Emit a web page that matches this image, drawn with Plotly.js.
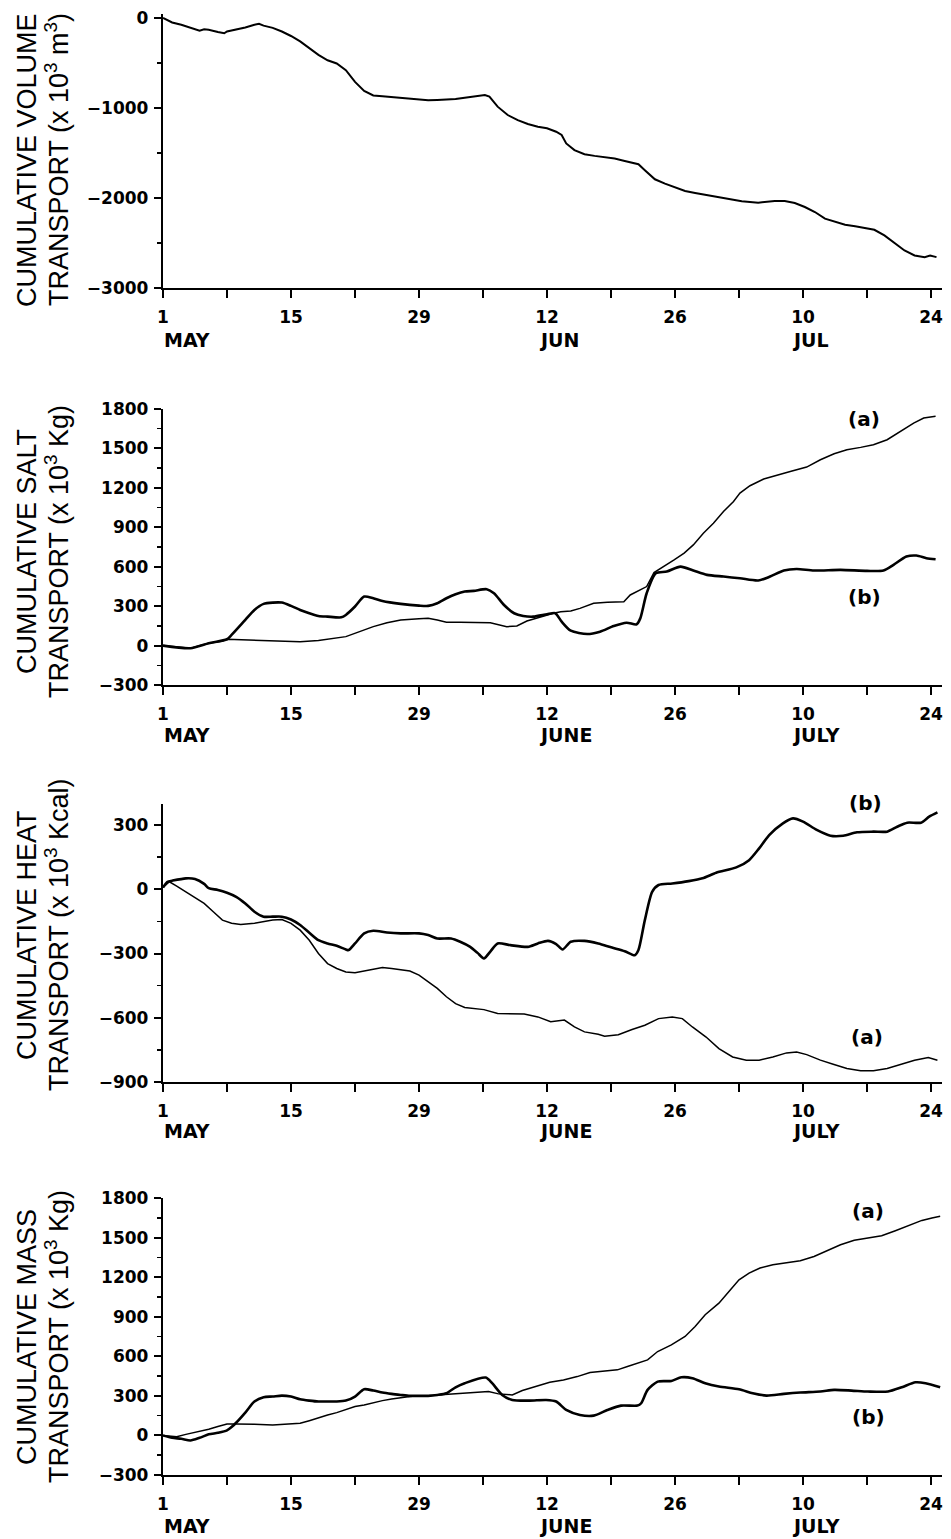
<!DOCTYPE html>
<html>
<head>
<meta charset="utf-8">
<script src="https://cdn.plot.ly/plotly-3.0.1.min.js"></script>
<style>html,body{margin:0;padding:0;background:#fff;}#chart{width:951px;height:1539px;}</style>
</head>
<body>
<div id="chart"></div>
<script>
// Day index: 0 = 1 May
const dayTicks = [0,14,28,42,56,70,84];
const dayTickText = ['1','15','29','12','26','10','24'];

// Panel 1: cumulative volume transport
const volDay = [0,0.7,1,2,3,4,4.5,5,6,6.7,7,8,9,10,10.5,11,12,13,14,15,16,17,18,19,20,21,22,23,24,25,26,27,28,29,30,31,32,33,34.1,35.2,35.7,36.6,37.7,38.8,39.9,41,42,43,43.6,44.1,45,46.1,47.2,48.3,49.4,50.5,52,52.7,53.8,54.9,56,57.1,58.2,59.6,61.4,63.3,65.1,66.9,68,69.1,70.2,71.3,72.4,73.5,74.6,75.7,76.7,77.8,78.9,80,81.1,82.2,83.3,83.9,84.6];
const volVal = [0,-37,-50,-75,-110,-140,-125,-130,-155,-170,-150,-130,-105,-75,-65,-85,-110,-150,-200,-260,-335,-410,-470,-505,-580,-710,-810,-860,-870,-880,-885,-900,-910,-915,-910,-905,-900,-885,-874,-855,-874,-985,-1078,-1134,-1178,-1208,-1226,-1264,-1300,-1394,-1468,-1513,-1532,-1543,-1561,-1588,-1625,-1691,-1792,-1840,-1877,-1922,-1944,-1970,-2007,-2037,-2052,-2033,-2033,-2055,-2100,-2156,-2230,-2267,-2297,-2315,-2334,-2353,-2416,-2502,-2583,-2639,-2657,-2639,-2657];

// Panel 2: cumulative salt transport
const saltADay = [0,3,5,6.5,7,10,12,15,17,19,20,21.5,23,24.5,26,28,29,30,31,32.5,34,35.8,37.6,38.7,39.8,41.3,42.7,43.5,44.6,45.6,47.1,48.6,50.4,51.1,52.2,52.9,53.7,54.8,55.9,57,58,59.1,60.2,61.3,62.4,63.1,64.2,65.7,67.2,68.6,70.4,71.9,73.4,74.8,76.3,77.7,79.2,80.6,82.1,83.2,84.5];
const saltAVal = [0,-20,18,35,48,43,38,30,38,55,68,106,144,174,195,205,207,195,177,177,174,174,144,149,187,220,246,258,263,283,322,329,334,385,423,449,555,601,652,703,766,855,931,1020,1096,1160,1216,1267,1300,1325,1358,1414,1460,1490,1508,1528,1566,1630,1693,1731,1744];
const saltBDay = [0,3,5,7,7.5,9,10,11,12,13,14,15,16,17,18,19.5,20,21,22,23,24,26,28,29,30,31,32,33,34,35.4,36.2,37.3,38.4,39.4,40.5,42,42.9,43.6,44.6,46.4,47.8,49.3,50.7,51.8,52.2,52.9,53.9,55.1,56.6,58,59.5,61.3,63.1,65.1,66.4,67.9,69.3,71.2,74.1,77,78.8,79.9,81.3,82.4,83.5,84.5];
const saltBVal = [0,-20,18,48,81,195,271,317,327,327,302,271,246,225,220,215,233,297,373,360,339,317,304,302,322,360,390,411,416,429,398,309,246,225,220,238,246,182,113,88,106,149,174,162,207,398,550,563,601,571,538,525,512,495,525,571,583,571,576,568,571,614,677,685,665,657];

// Panel 3: cumulative heat transport
const heatADay = [0,0.7,1.5,2.5,3.5,4.5,5.5,6.5,7.5,8.5,10,11,12,13,14,15,16,17,18,19,20,21,22,23,24,25,26,27,28,29,30,31,32,33,35.1,36.6,38,39.5,41,42.4,43.9,45,46.1,47.6,48.3,49.8,51.3,52.7,54.2,55.7,56.8,57.9,59.4,60.8,62.3,63.8,65.2,66.7,68.2,69.3,70.4,71.9,73.3,74.8,76.3,77.7,79.2,80.7,82.2,83.7,84.7];
const heatAVal = [8,35,15,-12,-35,-66,-105,-144,-159,-164,-159,-152,-144,-141,-159,-191,-238,-300,-347,-370,-386,-390,-382,-375,-365,-370,-375,-382,-401,-432,-463,-502,-534,-552,-562,-580,-580,-583,-596,-619,-611,-643,-666,-677,-686,-679,-655,-635,-604,-596,-604,-643,-690,-744,-783,-798,-798,-783,-764,-760,-772,-798,-817,-837,-848,-848,-837,-819,-798,-786,-798];
const heatBDay = [0,0.5,1,2.5,3.5,4.5,5,6,7,8,9,10,11,12,13,14,15,16,17,18,19,20,20.3,21,22,23,24.5,26,28,29,30,31.5,32.5,33.6,34.4,35.1,35.8,36.6,38,39.9,41,42.1,43,43.7,44.6,46.1,47.6,49.1,50.5,51.6,52,52.7,53.5,54.2,55.7,57.5,59,60.5,62.7,64.1,65.2,66.3,67.8,68.9,70,71.5,73,74.4,75.9,77.7,79.2,80.3,81.4,82.9,83.8,84.7];
const heatBVal = [8,35,40,51,48,25,5,-3,-16,-35,-66,-105,-128,-128,-128,-141,-167,-203,-238,-253,-264,-281,-284,-253,-206,-194,-202,-206,-206,-214,-230,-230,-245,-269,-297,-323,-291,-253,-261,-269,-253,-241,-256,-281,-245,-241,-253,-272,-289,-308,-284,-144,-12,20,27,38,51,77,102,136,191,253,308,331,316,277,250,250,266,269,269,292,311,311,339,359];

// Panel 4: cumulative mass transport
const massADay = [0,1.5,2.5,3.5,5,6,7,8,9,10,12,14,15,16,17,18,19,20,21,22,23,24,25,26,27,28,29,30,31,32,33,35.6,36.7,38.2,39.3,40.8,42.3,43.8,45.3,46.7,48.2,49.7,50.8,51.9,53,54.1,55.6,57.1,58.2,59.3,60.8,61.9,63,64.1,65.3,66.7,68.2,69.7,71.2,72.7,74.1,75.6,77.1,78.6,80.1,81.6,83,84.1,85];
const massAVal = [0,-10,8,23,47,67,87,87,87,85,80,87,92,112,135,155,173,198,219,231,249,264,277,287,295,300,300,307,312,320,325,333,315,307,340,371,403,421,446,477,489,497,522,548,573,636,687,750,826,915,1003,1092,1180,1231,1269,1294,1307,1324,1357,1400,1446,1479,1496,1514,1552,1590,1630,1648,1661];
const massBDay = [0,1,2,3,4,5,6,7,7.5,8,9,10,11,12,13,14,15,16,17,18,19,20,21,22,23,24,25,26,27,28,29,30,31,32,33,35.3,36,37.1,38.2,40.1,41.9,43,44.1,45.6,47.1,48.6,50.1,51.9,52.3,53,54.1,55.6,56.7,57.9,59.3,60.8,63,64.5,66,67.9,69.7,71.9,73.4,75.3,77.1,79.3,80.8,82.3,83.4,85];
const massBVal = [0,-18,-25,-38,-18,8,20,38,63,96,173,257,290,295,302,295,274,264,257,257,257,264,295,350,340,325,315,307,300,300,300,307,320,365,396,439,396,307,269,264,269,257,193,155,150,193,226,226,244,345,408,413,441,434,396,371,350,320,302,315,325,333,345,340,333,333,365,403,396,365];

const titles = [
  ['CUMULATIVE VOLUME', 'TRANSPORT (x 10<sup>3</sup> m<sup>3</sup>)'],
  ['CUMULATIVE SALT', 'TRANSPORT (x 10<sup>3</sup> Kg)'],
  ['CUMULATIVE HEAT', 'TRANSPORT (x 10<sup>3</sup> Kcal)'],
  ['CUMULATIVE MASS', 'TRANSPORT (x 10<sup>3</sup> Kg)']
];
const monthSets = [['MAY','JUN','JUL'],['MAY','JUNE','JULY'],['MAY','JUNE','JULY'],['MAY','JUNE','JULY']];
const seriesLabels = [[], ['(a)','(b)'], ['(b)','(a)'], ['(a)','(b)']];

const H = 1539, W = 951;
const py = px => 1 - px / H;
const tickFont = {family: 'DejaVu Sans', size: 17, color: '#000', weight: 'bold'};

const thin = {color: '#000', width: 1.5};
const thick = {color: '#000', width: 2.6, shape: 'spline', smoothing: 0.7};

const traces = [
  {x: volDay, y: volVal, xaxis: 'x', yaxis: 'y', mode: 'lines', line: {color: '#000', width: 2}},
  {x: saltADay, y: saltAVal, xaxis: 'x2', yaxis: 'y2', mode: 'lines', line: thin},
  {x: saltBDay, y: saltBVal, xaxis: 'x2', yaxis: 'y2', mode: 'lines', line: thick},
  {x: heatADay, y: heatAVal, xaxis: 'x3', yaxis: 'y3', mode: 'lines', line: thin},
  {x: heatBDay, y: heatBVal, xaxis: 'x3', yaxis: 'y3', mode: 'lines', line: thick},
  {x: massADay, y: massAVal, xaxis: 'x4', yaxis: 'y4', mode: 'lines', line: thin},
  {x: massBDay, y: massBVal, xaxis: 'x4', yaxis: 'y4', mode: 'lines', line: thick}
];

// panel geometry (pixels): [bottom, top]
const panels = [
  {bot: 288, top: 14.4, range: [-3000, 40], ticks: [0,-1000,-2000,-3000], minor: 500, monthY: 340, titleY: 160},
  {bot: 685, top: 409, range: [-300, 1800], ticks: [1800,1500,1200,900,600,300,0,-300], minor: 150, monthY: 735, titleY: 552},
  {bot: 1082, top: 803.6, range: [-900, 400], ticks: [300,0,-300,-600,-900], minor: 150, monthY: 1131, titleY: 935},
  {bot: 1475, top: 1198, range: [-300, 1800], ticks: [1800,1500,1200,900,600,300,0,-300], minor: 150, monthY: 1526, titleY: 1337}
];

const layout = {
  width: W, height: H,
  margin: {l: 0, r: 0, t: 0, b: 0},
  paper_bgcolor: '#fff', plot_bgcolor: '#fff',
  showlegend: false,
  annotations: [],
  font: {family: 'Liberation Sans', color: '#000'}
};

const x0 = 163, x1 = 942, xMax = 85.2;
const xDomain = [x0 / W, x1 / W];
const monthPx = [162, 537, 790];
panels.forEach((p, i) => {
  const n = i === 0 ? '' : String(i + 1);
  layout['xaxis' + n] = {
    domain: xDomain, range: [0, xMax], anchor: 'y' + n,
    showline: true, linecolor: '#000', linewidth: 2.2,
    showgrid: false, zeroline: false,
    tickmode: 'array', tickvals: dayTicks, ticktext: dayTickText,
    ticks: 'outside', ticklen: 8, tickwidth: 2.2, tickcolor: '#000',
    minor: {tickmode: 'linear', tick0: 0, dtick: 7, ticks: 'outside', ticklen: 8, tickwidth: 2.2, tickcolor: '#000', showgrid: false},
    tickfont: tickFont, ticklabelstandoff: 4
  };
  layout['yaxis' + n] = {
    domain: [py(p.bot), py(p.top)], range: p.range, anchor: 'x' + n,
    showline: true, linecolor: '#000', linewidth: 2.2,
    showgrid: false, zeroline: false,
    tickmode: 'array', tickvals: p.ticks,
    ticks: 'outside', ticklen: 7, tickwidth: 2, tickcolor: '#000',
    minor: {tickmode: 'linear', dtick: p.minor, tick0: 0, ticks: 'outside', ticklen: 4, tickwidth: 1.5, tickcolor: '#000', showgrid: false},
    tickfont: tickFont, ticklabelstandoff: 2
  };
  const titleFont = {family: 'Liberation Sans', size: 27, color: '#000'};
  layout.annotations.push({xref: 'paper', yref: 'paper', x: 27 / W, y: py(p.titleY), text: titles[i][0], textangle: -90,
    showarrow: false, xanchor: 'center', yanchor: 'middle', font: titleFont});
  layout.annotations.push({xref: 'paper', yref: 'paper', x: 57 / W, y: py(p.titleY), text: titles[i][1], textangle: -90,
    showarrow: false, xanchor: 'center', yanchor: 'middle', font: titleFont});
  monthSets[i].forEach((m, k) => {
    layout.annotations.push({xref: 'paper', yref: 'paper', x: monthPx[k] / W, y: py(p.monthY), text: m,
      showarrow: false, xanchor: 'left', yanchor: 'middle', font: {family: 'DejaVu Sans', size: 19, color: '#000', weight: 'bold'}});
  });
});

// series labels (a)/(b)
const labelPos = [
  null,
  [[864, 419], [864, 597]],
  [[865, 803], [867, 1037]],
  [[868, 1211], [868, 1417]]
];
seriesLabels.forEach((labs, i) => {
  labs.forEach((t, k) => {
    const pos = labelPos[i][k];
    layout.annotations.push({xref: 'paper', yref: 'paper', x: pos[0] / W, y: py(pos[1]), text: t,
      showarrow: false, xanchor: 'center', yanchor: 'middle', font: {family: 'DejaVu Sans', size: 20, color: '#000', weight: 'bold'}});
  });
});

Plotly.newPlot('chart', traces, layout, {staticPlot: true, displayModeBar: false});
</script>
</body>
</html>
